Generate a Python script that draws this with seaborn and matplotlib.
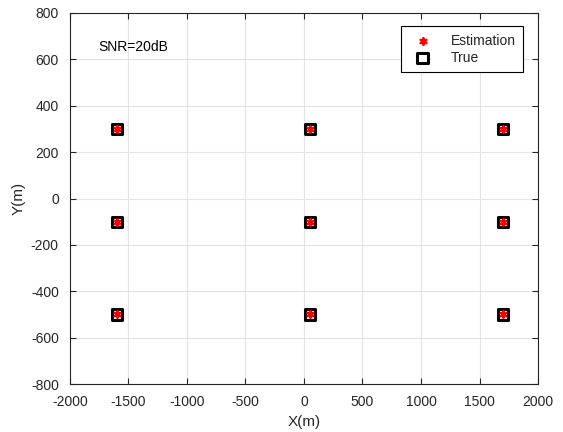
import matplotlib
matplotlib.use("Agg")
import matplotlib.pyplot as plt
import seaborn as sns
import pandas as pd

true_x = [-1600, -1600, -1600, 50, 50, 50, 1700, 1700, 1700]
true_y = [300, -100, -500, 300, -100, -500, 300, -100, -500]
est_x = [-1600, -1600, -1600, 50, 50, 50, 1700, 1700, 1700]
est_y = [300, -100, -500, 300, -100, -500, 300, -100, -500]
x_ticks = [-2000, -1500, -1000, -500, 0, 500, 1000, 1500, 2000]
y_ticks = [-800, -600, -400, -200, 0, 200, 400, 600, 800]

sns.set_theme(style="whitegrid")
plt.rcParams['font.family'] = ['Liberation Sans', 'DejaVu Sans']

fig = plt.figure(figsize=(5.63, 4.32), dpi=100)
ax = fig.add_axes([0.1243, 0.111, 0.8313, 0.859])

df_true = pd.DataFrame({"x": true_x, "y": true_y})
df_est = pd.DataFrame({"x": est_x, "y": est_y})

sns.scatterplot(data=df_true, x="x", y="y", ax=ax, marker="s", s=55,
                facecolor="none", edgecolor="black", linewidth=2.2,
                label="True", zorder=3)
sns.scatterplot(data=df_est, x="x", y="y", ax=ax, marker=(6, 2, 0), s=22,
                color="red", edgecolor="red", linewidth=1.6,
                label="Estimation", zorder=4)

ax.set_xlim(-2000, 2000)
ax.set_ylim(-800, 800)
ax.set_xticks(x_ticks)
ax.set_yticks(y_ticks)
ax.set_xticklabels([str(v) for v in x_ticks])
ax.set_yticklabels([str(v) for v in y_ticks])
ax.set_xlabel("X(m)", fontsize=11, labelpad=4, color="#262626")
ax.set_ylabel("Y(m)", fontsize=11, labelpad=4, color="#262626")
ax.tick_params(axis="both", labelsize=10, direction="in", length=4,
               width=0.8, colors="#262626", top=True, right=True,
               bottom=True, left=True)
ax.tick_params(axis="x", pad=8)
ax.tick_params(axis="y", pad=8)
ax.grid(True, color="#e3e3e3", linewidth=0.8)
ax.set_facecolor("white")
for sp in ax.spines.values():
    sp.set_visible(True)
    sp.set_color("#262626")
    sp.set_linewidth(0.8)

ax.text(-1760, 655, "SNR=20dB", fontsize=10, color="black", va="center", ha="left")

handles, labels = ax.get_legend_handles_labels()
order = [labels.index("Estimation"), labels.index("True")]
leg = ax.legend([handles[i] for i in order], [labels[i] for i in order],
                loc="upper right", bbox_to_anchor=(0.968, 0.964), fontsize=10,
                frameon=True, fancybox=False, edgecolor="black",
                framealpha=1, handletextpad=1.0, borderpad=0.55,
                labelspacing=0.2, handlelength=2.0, borderaxespad=0)
leg.get_frame().set_linewidth(0.8)

fig.savefig("out.png", dpi=100)
